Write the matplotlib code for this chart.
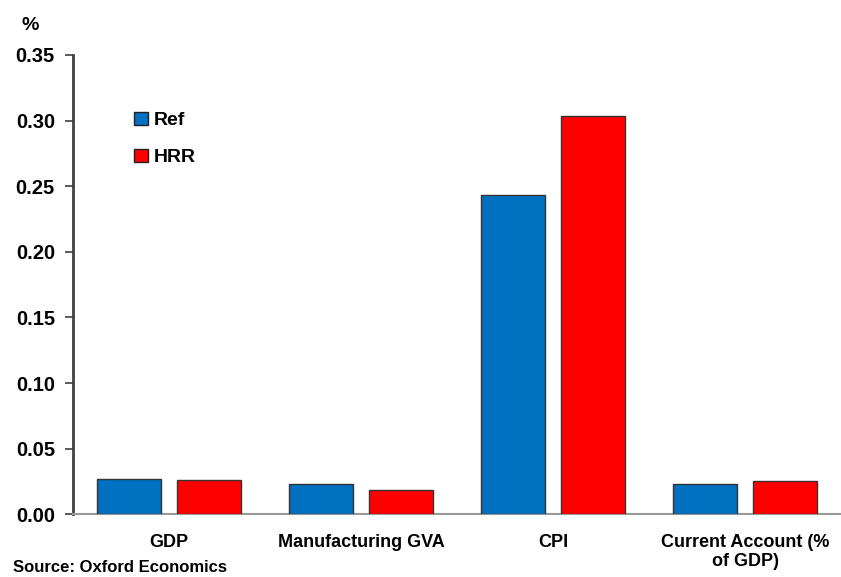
import matplotlib
matplotlib.use("Agg")
import matplotlib.pyplot as plt
import numpy as np

categories = ["GDP", "Manufacturing GVA", "CPI", "Current Account (%\nof GDP)"]
ref_values = [0.027, 0.023, 0.2435, 0.023]
hrr_values = [0.026, 0.0185, 0.3033, 0.0256]
series_names = ["Ref", "HRR"]
yticks = [0.00, 0.05, 0.10, 0.15, 0.20, 0.25, 0.30, 0.35]

plt.rcParams['font.family'] = ['Liberation Sans', 'DejaVu Sans']
plt.rcParams['font.weight'] = 'bold'

fig = plt.figure(figsize=(8.41, 5.77), dpi=100)
ax = fig.add_axes([73/841, 1-514.3/577, 1-73/841, (514.3-55)/577])

x = np.arange(len(categories))
w = 0.333
off = 0.206
ax.bar(x - off, ref_values, w, color="#0070C0", edgecolor="#333333", linewidth=1, label=series_names[0], zorder=3)
ax.bar(x + off, hrr_values, w, color="#FF0000", edgecolor="#333333", linewidth=1, label=series_names[1], zorder=3)

ax.set_xlim(-0.5, 3.5)
ax.set_ylim(0, 0.35)
ax.set_yticks(yticks)
ax.set_yticklabels([f"{v:.2f}" for v in yticks], fontsize=14.5, fontweight='bold')
ax.set_xticks(x)
ax.set_xticklabels(categories, fontsize=13, fontweight='bold', va='top')
ax.tick_params(axis='x', length=0, pad=14)
ax.tick_params(axis='y', length=6, width=1.2, color="#404040", direction='out', pad=7)

for s in ['top', 'right']:
    ax.spines[s].set_visible(False)
ax.spines['left'].set_color("#404040")
ax.spines['left'].set_linewidth(2)
ax.spines['bottom'].set_color("#999999")
ax.spines['bottom'].set_linewidth(1.5)

leg = ax.legend(loc='upper left', bbox_to_anchor=(0.057, 0.915), frameon=False,
                handlelength=0.7, handleheight=0.7, handletextpad=0.3,
                labelspacing=1.0, prop={'weight': 'bold', 'size': 14})
for h in leg.legend_handles:
    h.set_edgecolor("#222222")

fig.text(30/841, 1-25/577, "%", fontsize=14, fontweight='bold', ha='center', va='center')
fig.text(13/841, 2/577, "Source: Oxford Economics", fontsize=12, fontweight='bold', ha='left', va='bottom')

fig.savefig("out.png", dpi=100)
